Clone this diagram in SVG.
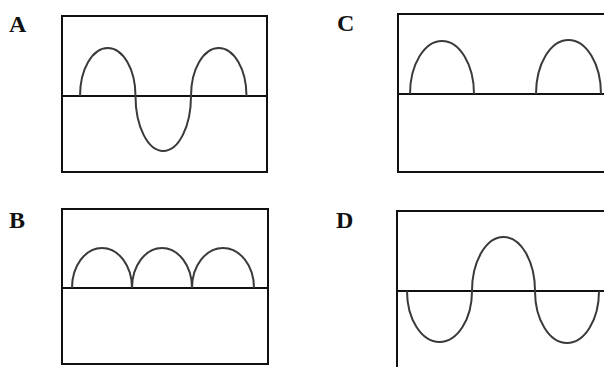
<svg xmlns="http://www.w3.org/2000/svg" width="604" height="367" viewBox="0 0 604 367">
<style>
.bg{fill:#fff}
.box{fill:none;stroke:#111;stroke-width:2}
.axis{stroke:#111;stroke-width:2}
.wave{fill:none;stroke:#3a3a3a;stroke-width:2}
.lbl{font-family:"Liberation Serif","Times New Roman",serif;font-weight:bold;font-size:24px;fill:#111}
</style>
<rect class="bg" x="0" y="0" width="604" height="367"/>
<g id="panelA">
<text class="lbl" x="9" y="32">A</text>
<rect class="box" x="62" y="16" width="205" height="156"/>
<line class="axis" x1="62" y1="96" x2="267" y2="96"/>
<path class="wave" d="M80,96 A27.75,48 0 0 1 135.5,96 A27.75,55 0 0 0 191,96 A27.75,48 0 0 1 246.5,96"/>
</g>
<g id="panelC">
<text class="lbl" x="337" y="31">C</text>
<rect class="box" x="398" y="14" width="220" height="158"/>
<line class="axis" x1="398" y1="94" x2="604" y2="94"/>
<path class="wave" d="M410,94 A32,53 0 0 1 474,94 M536,94 A32.5,54 0 0 1 601,94"/>
</g>
<g id="panelB">
<text class="lbl" x="9" y="228">B</text>
<rect class="box" x="62" y="209" width="206" height="155"/>
<line class="axis" x1="62" y1="288" x2="268" y2="288"/>
<path class="wave" d="M72,288 A30,40 0 0 1 132,288 A30,40 0 0 1 192,288 A31,40 0 0 1 254,288"/>
</g>
<g id="panelD">
<text class="lbl" x="336" y="228">D</text>
<rect class="box" x="397" y="211" width="220" height="170"/>
<line class="axis" x1="397" y1="291" x2="604" y2="291"/>
<path class="wave" d="M407,291 A32.5,51 0 0 0 472,291 A31.5,54 0 0 1 535,291 A32,52 0 0 0 599,291"/>
</g>
</svg>
